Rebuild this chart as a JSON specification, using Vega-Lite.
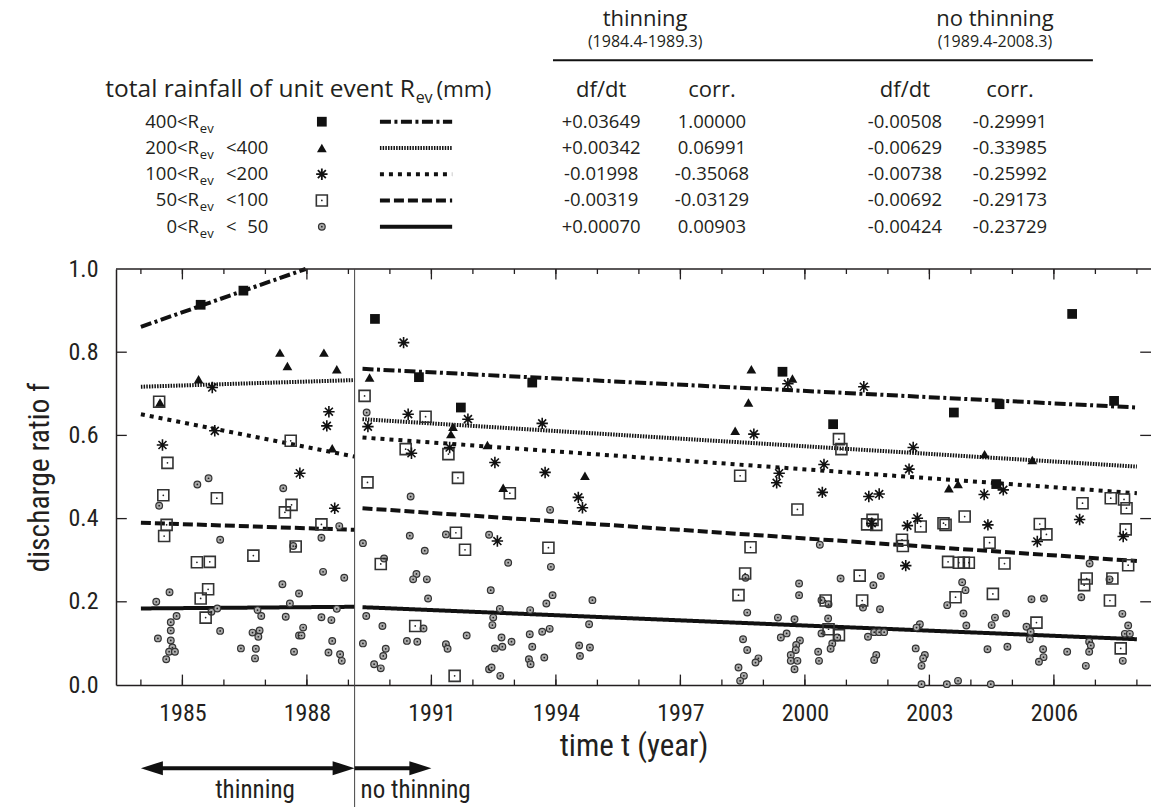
{
  "$schema": "https://vega.github.io/schema/vega-lite/v6.json",
  "width": 1035,
  "height": 416,
  "autosize": {"type": "none"},
  "padding": {"left": 116, "top": 269, "right": 0, "bottom": 122},
  "background": "white",
  "config": {
    "view": {"stroke": null},
    "text": {"font": "Open Sans", "color": "#231f20"},
    "axis": {"grid": false, "labelColor": "#231f20", "titleColor": "#231f20", "domainColor": "#231f20", "domainWidth": 1.5, "labelFont": "Roboto Condensed, DejaVu Sans Condensed, Roboto, sans-serif", "titleFont": "Roboto Condensed, DejaVu Sans Condensed, Roboto, sans-serif", "titleFontWeight": "normal"}
  },
  "datasets": {
    "fits": [
      {"period": "thinning", "class": "R>400", "t": 1984.0, "f": 0.861},
      {"period": "thinning", "class": "R>400", "t": 1987.97, "f": 1.0},
      {"period": "thinning", "class": "200-400", "t": 1984.0, "f": 0.717},
      {"period": "thinning", "class": "200-400", "t": 1989.15, "f": 0.733},
      {"period": "thinning", "class": "100-200", "t": 1984.0, "f": 0.651},
      {"period": "thinning", "class": "100-200", "t": 1989.15, "f": 0.549},
      {"period": "thinning", "class": "50-100", "t": 1984.0, "f": 0.39},
      {"period": "thinning", "class": "50-100", "t": 1989.15, "f": 0.373},
      {"period": "thinning", "class": "0-50", "t": 1984.0, "f": 0.184},
      {"period": "thinning", "class": "0-50", "t": 1989.15, "f": 0.188},
      {"period": "no thinning", "class": "R>400", "t": 1989.34, "f": 0.76},
      {"period": "no thinning", "class": "R>400", "t": 2008.0, "f": 0.667},
      {"period": "no thinning", "class": "200-400", "t": 1989.34, "f": 0.639},
      {"period": "no thinning", "class": "200-400", "t": 2008.0, "f": 0.525},
      {"period": "no thinning", "class": "100-200", "t": 1989.34, "f": 0.595},
      {"period": "no thinning", "class": "100-200", "t": 2008.0, "f": 0.461},
      {"period": "no thinning", "class": "50-100", "t": 1989.34, "f": 0.425},
      {"period": "no thinning", "class": "50-100", "t": 2008.0, "f": 0.298},
      {"period": "no thinning", "class": "0-50", "t": 1989.34, "f": 0.187},
      {"period": "no thinning", "class": "0-50", "t": 2008.0, "f": 0.11}
    ],
    "points": [
      {"t":1985.44,"f":0.914,"class":"R>400"},{"t":1986.47,"f":0.948,"class":"R>400"},{"t":1989.64,"f":0.880,"class":"R>400"},{"t":1990.70,"f":0.740,"class":"R>400"},{"t":1991.71,"f":0.667,"class":"R>400"},{"t":1993.43,"f":0.727,"class":"R>400"},{"t":1999.46,"f":0.753,"class":"R>400"},{"t":2000.68,"f":0.627,"class":"R>400"},{"t":2003.59,"f":0.655,"class":"R>400"},{"t":2004.69,"f":0.675,"class":"R>400"},{"t":2004.61,"f":0.483,"class":"R>400"},{"t":2006.44,"f":0.892,"class":"R>400"},{"t":2007.45,"f":0.683,"class":"R>400"},
      {"t":1984.46,"f":0.679,"class":"200-400"},{"t":1985.39,"f":0.735,"class":"200-400"},{"t":1987.35,"f":0.799,"class":"200-400"},{"t":1987.53,"f":0.767,"class":"200-400"},{"t":1988.41,"f":0.799,"class":"200-400"},{"t":1988.72,"f":0.759,"class":"200-400"},{"t":1988.61,"f":0.569,"class":"200-400"},{"t":1989.51,"f":0.739,"class":"200-400"},{"t":1991.52,"f":0.621,"class":"200-400"},{"t":1991.47,"f":0.603,"class":"200-400"},{"t":1992.35,"f":0.577,"class":"200-400"},{"t":1992.73,"f":0.474,"class":"200-400"},{"t":1994.70,"f":0.503,"class":"200-400"},{"t":1998.71,"f":0.759,"class":"200-400"},{"t":1999.70,"f":0.737,"class":"200-400"},{"t":1998.64,"f":0.679,"class":"200-400"},{"t":1998.32,"f":0.611,"class":"200-400"},{"t":2003.47,"f":0.473,"class":"200-400"},{"t":2003.69,"f":0.483,"class":"200-400"},{"t":2004.33,"f":0.555,"class":"200-400"},{"t":2005.48,"f":0.541,"class":"200-400"},
      {"t":1984.52,"f":0.577,"class":"100-200"},{"t":1985.72,"f":0.715,"class":"100-200"},{"t":1985.78,"f":0.611,"class":"100-200"},{"t":1987.83,"f":0.509,"class":"100-200"},{"t":1988.53,"f":0.657,"class":"100-200"},{"t":1988.48,"f":0.623,"class":"100-200"},{"t":1988.67,"f":0.425,"class":"100-200"},{"t":1989.47,"f":0.621,"class":"100-200"},{"t":1990.33,"f":0.823,"class":"100-200"},{"t":1990.44,"f":0.651,"class":"100-200"},{"t":1990.52,"f":0.557,"class":"100-200"},{"t":1991.44,"f":0.571,"class":"100-200"},{"t":1991.88,"f":0.639,"class":"100-200"},{"t":1992.53,"f":0.535,"class":"100-200"},{"t":1992.59,"f":0.346,"class":"100-200"},{"t":1993.67,"f":0.629,"class":"100-200"},{"t":1993.74,"f":0.511,"class":"100-200"},{"t":1994.54,"f":0.451,"class":"100-200"},{"t":1994.64,"f":0.426,"class":"100-200"},{"t":1998.77,"f":0.603,"class":"100-200"},{"t":1999.59,"f":0.724,"class":"100-200"},{"t":1999.38,"f":0.509,"class":"100-200"},{"t":1999.32,"f":0.486,"class":"100-200"},{"t":2000.46,"f":0.530,"class":"100-200"},{"t":2000.42,"f":0.463,"class":"100-200"},{"t":2001.42,"f":0.717,"class":"100-200"},{"t":2001.54,"f":0.453,"class":"100-200"},{"t":2001.79,"f":0.459,"class":"100-200"},{"t":2001.61,"f":0.389,"class":"100-200"},{"t":2002.61,"f":0.571,"class":"100-200"},{"t":2002.51,"f":0.519,"class":"100-200"},{"t":2002.47,"f":0.383,"class":"100-200"},{"t":2002.71,"f":0.401,"class":"100-200"},{"t":2002.43,"f":0.287,"class":"100-200"},{"t":2004.32,"f":0.458,"class":"100-200"},{"t":2004.78,"f":0.469,"class":"100-200"},{"t":2004.41,"f":0.385,"class":"100-200"},{"t":2005.60,"f":0.345,"class":"100-200"},{"t":2006.62,"f":0.398,"class":"100-200"},{"t":2007.67,"f":0.357,"class":"100-200"},
      {"t":1984.44,"f":0.681,"class":"50-100"},{"t":1984.64,"f":0.534,"class":"50-100"},{"t":1984.54,"f":0.456,"class":"50-100"},{"t":1984.62,"f":0.385,"class":"50-100"},{"t":1984.56,"f":0.358,"class":"50-100"},{"t":1985.83,"f":0.449,"class":"50-100"},{"t":1985.35,"f":0.295,"class":"50-100"},{"t":1985.66,"f":0.296,"class":"50-100"},{"t":1985.62,"f":0.230,"class":"50-100"},{"t":1985.44,"f":0.208,"class":"50-100"},{"t":1985.56,"f":0.162,"class":"50-100"},{"t":1986.71,"f":0.311,"class":"50-100"},{"t":1987.61,"f":0.587,"class":"50-100"},{"t":1987.63,"f":0.433,"class":"50-100"},{"t":1987.47,"f":0.415,"class":"50-100"},{"t":1987.73,"f":0.333,"class":"50-100"},{"t":1988.35,"f":0.386,"class":"50-100"},{"t":1989.39,"f":0.695,"class":"50-100"},{"t":1989.46,"f":0.487,"class":"50-100"},{"t":1989.78,"f":0.291,"class":"50-100"},{"t":1990.38,"f":0.567,"class":"50-100"},{"t":1990.86,"f":0.645,"class":"50-100"},{"t":1990.61,"f":0.142,"class":"50-100"},{"t":1991.41,"f":0.555,"class":"50-100"},{"t":1991.64,"f":0.498,"class":"50-100"},{"t":1991.59,"f":0.366,"class":"50-100"},{"t":1991.81,"f":0.325,"class":"50-100"},{"t":1991.56,"f":0.022,"class":"50-100"},{"t":1992.89,"f":0.461,"class":"50-100"},{"t":1993.82,"f":0.330,"class":"50-100"},{"t":1998.44,"f":0.503,"class":"50-100"},{"t":1998.69,"f":0.331,"class":"50-100"},{"t":1998.56,"f":0.268,"class":"50-100"},{"t":1998.40,"f":0.216,"class":"50-100"},{"t":1999.82,"f":0.422,"class":"50-100"},{"t":2000.82,"f":0.591,"class":"50-100"},{"t":2000.88,"f":0.567,"class":"50-100"},{"t":2000.50,"f":0.203,"class":"50-100"},{"t":2000.57,"f":0.134,"class":"50-100"},{"t":2000.82,"f":0.120,"class":"50-100"},{"t":2001.32,"f":0.263,"class":"50-100"},{"t":2001.38,"f":0.203,"class":"50-100"},{"t":2001.50,"f":0.386,"class":"50-100"},{"t":2001.63,"f":0.397,"class":"50-100"},{"t":2001.72,"f":0.385,"class":"50-100"},{"t":2002.34,"f":0.349,"class":"50-100"},{"t":2002.36,"f":0.334,"class":"50-100"},{"t":2002.79,"f":0.381,"class":"50-100"},{"t":2003.34,"f":0.389,"class":"50-100"},{"t":2003.39,"f":0.385,"class":"50-100"},{"t":2003.85,"f":0.405,"class":"50-100"},{"t":2003.45,"f":0.296,"class":"50-100"},{"t":2003.71,"f":0.294,"class":"50-100"},{"t":2003.83,"f":0.294,"class":"50-100"},{"t":2003.95,"f":0.294,"class":"50-100"},{"t":2003.63,"f":0.211,"class":"50-100"},{"t":2004.45,"f":0.342,"class":"50-100"},{"t":2004.53,"f":0.219,"class":"50-100"},{"t":2004.81,"f":0.292,"class":"50-100"},{"t":2005.66,"f":0.387,"class":"50-100"},{"t":2005.82,"f":0.362,"class":"50-100"},{"t":2005.58,"f":0.150,"class":"50-100"},{"t":2006.69,"f":0.437,"class":"50-100"},{"t":2006.79,"f":0.256,"class":"50-100"},{"t":2006.73,"f":0.240,"class":"50-100"},{"t":2007.37,"f":0.449,"class":"50-100"},{"t":2007.69,"f":0.446,"class":"50-100"},{"t":2007.75,"f":0.425,"class":"50-100"},{"t":2007.73,"f":0.374,"class":"50-100"},{"t":2007.79,"f":0.288,"class":"50-100"},{"t":2007.41,"f":0.256,"class":"50-100"},{"t":2007.35,"f":0.203,"class":"50-100"},{"t":2007.61,"f":0.088,"class":"50-100"},
      {"t":1985.36,"f":0.482,"class":"0-50"},{"t":1985.63,"f":0.497,"class":"0-50"},{"t":1987.43,"f":0.473,"class":"0-50"},{"t":1984.44,"f":0.431,"class":"0-50"},{"t":1985.91,"f":0.349,"class":"0-50"},{"t":1988.78,"f":0.382,"class":"0-50"},{"t":1988.35,"f":0.354,"class":"0-50"},{"t":1987.67,"f":0.334,"class":"0-50"},{"t":1988.39,"f":0.272,"class":"0-50"},{"t":1988.90,"f":0.258,"class":"0-50"},{"t":1987.41,"f":0.242,"class":"0-50"},{"t":1987.81,"f":0.220,"class":"0-50"},{"t":1984.69,"f":0.223,"class":"0-50"},{"t":1984.37,"f":0.200,"class":"0-50"},{"t":1987.59,"f":0.196,"class":"0-50"},{"t":1984.86,"f":0.166,"class":"0-50"},{"t":1984.72,"f":0.151,"class":"0-50"},{"t":1984.72,"f":0.131,"class":"0-50"},{"t":1984.41,"f":0.112,"class":"0-50"},{"t":1984.72,"f":0.107,"class":"0-50"},{"t":1984.76,"f":0.090,"class":"0-50"},{"t":1984.68,"f":0.080,"class":"0-50"},{"t":1984.82,"f":0.080,"class":"0-50"},{"t":1984.61,"f":0.062,"class":"0-50"},{"t":1985.70,"f":0.176,"class":"0-50"},{"t":1985.84,"f":0.184,"class":"0-50"},{"t":1985.91,"f":0.130,"class":"0-50"},{"t":1986.81,"f":0.180,"class":"0-50"},{"t":1986.90,"f":0.166,"class":"0-50"},{"t":1986.69,"f":0.126,"class":"0-50"},{"t":1986.86,"f":0.131,"class":"0-50"},{"t":1986.83,"f":0.116,"class":"0-50"},{"t":1986.41,"f":0.088,"class":"0-50"},{"t":1986.77,"f":0.087,"class":"0-50"},{"t":1986.75,"f":0.064,"class":"0-50"},{"t":1987.49,"f":0.164,"class":"0-50"},{"t":1987.91,"f":0.138,"class":"0-50"},{"t":1987.81,"f":0.119,"class":"0-50"},{"t":1987.87,"f":0.119,"class":"0-50"},{"t":1987.69,"f":0.080,"class":"0-50"},{"t":1988.35,"f":0.163,"class":"0-50"},{"t":1988.59,"f":0.156,"class":"0-50"},{"t":1988.72,"f":0.183,"class":"0-50"},{"t":1988.61,"f":0.106,"class":"0-50"},{"t":1988.52,"f":0.078,"class":"0-50"},{"t":1988.80,"f":0.074,"class":"0-50"},{"t":1988.84,"f":0.058,"class":"0-50"},
      {"t":1989.44,"f":0.655,"class":"0-50"},{"t":1990.50,"f":0.453,"class":"0-50"},{"t":1993.86,"f":0.421,"class":"0-50"},{"t":1989.35,"f":0.341,"class":"0-50"},{"t":1990.48,"f":0.359,"class":"0-50"},{"t":1991.35,"f":0.362,"class":"0-50"},{"t":1992.39,"f":0.361,"class":"0-50"},{"t":1989.86,"f":0.304,"class":"0-50"},{"t":1990.84,"f":0.323,"class":"0-50"},{"t":1992.85,"f":0.294,"class":"0-50"},{"t":1993.88,"f":0.284,"class":"0-50"},{"t":1990.64,"f":0.267,"class":"0-50"},{"t":1990.56,"f":0.254,"class":"0-50"},{"t":1990.89,"f":0.254,"class":"0-50"},{"t":1992.43,"f":0.228,"class":"0-50"},{"t":1990.92,"f":0.208,"class":"0-50"},{"t":1993.92,"f":0.216,"class":"0-50"},{"t":1993.77,"f":0.196,"class":"0-50"},{"t":1994.88,"f":0.204,"class":"0-50"},{"t":1992.65,"f":0.183,"class":"0-50"},{"t":1993.38,"f":0.180,"class":"0-50"},{"t":1989.43,"f":0.166,"class":"0-50"},{"t":1992.49,"f":0.162,"class":"0-50"},{"t":1992.47,"f":0.144,"class":"0-50"},{"t":1989.82,"f":0.142,"class":"0-50"},{"t":1990.81,"f":0.136,"class":"0-50"},{"t":1994.80,"f":0.146,"class":"0-50"},{"t":1993.85,"f":0.135,"class":"0-50"},{"t":1993.67,"f":0.128,"class":"0-50"},{"t":1991.85,"f":0.119,"class":"0-50"},{"t":1993.37,"f":0.122,"class":"0-50"},{"t":1992.69,"f":0.114,"class":"0-50"},{"t":1992.93,"f":0.104,"class":"0-50"},{"t":1989.35,"f":0.100,"class":"0-50"},{"t":1990.41,"f":0.106,"class":"0-50"},{"t":1990.66,"f":0.104,"class":"0-50"},{"t":1991.35,"f":0.098,"class":"0-50"},{"t":1991.39,"f":0.087,"class":"0-50"},{"t":1989.90,"f":0.087,"class":"0-50"},{"t":1989.84,"f":0.070,"class":"0-50"},{"t":1992.53,"f":0.088,"class":"0-50"},{"t":1992.71,"f":0.092,"class":"0-50"},{"t":1993.43,"f":0.092,"class":"0-50"},{"t":1994.56,"f":0.095,"class":"0-50"},{"t":1994.82,"f":0.090,"class":"0-50"},{"t":1994.58,"f":0.070,"class":"0-50"},{"t":1993.72,"f":0.066,"class":"0-50"},{"t":1993.35,"f":0.062,"class":"0-50"},{"t":1993.39,"f":0.050,"class":"0-50"},{"t":1989.62,"f":0.050,"class":"0-50"},{"t":1989.78,"f":0.040,"class":"0-50"},{"t":1992.39,"f":0.038,"class":"0-50"},{"t":1992.45,"f":0.042,"class":"0-50"},{"t":1992.66,"f":0.022,"class":"0-50"},
      {"t":2000.36,"f":0.337,"class":"0-50"},{"t":1999.86,"f":0.244,"class":"0-50"},{"t":1999.86,"f":0.216,"class":"0-50"},{"t":2000.86,"f":0.256,"class":"0-50"},{"t":2001.65,"f":0.240,"class":"0-50"},{"t":2001.83,"f":0.262,"class":"0-50"},{"t":1998.57,"f":0.258,"class":"0-50"},{"t":2000.40,"f":0.204,"class":"0-50"},{"t":2000.57,"f":0.194,"class":"0-50"},{"t":2001.40,"f":0.186,"class":"0-50"},{"t":2001.81,"f":0.182,"class":"0-50"},{"t":1998.61,"f":0.174,"class":"0-50"},{"t":1999.35,"f":0.162,"class":"0-50"},{"t":1999.75,"f":0.158,"class":"0-50"},{"t":2000.56,"f":0.160,"class":"0-50"},{"t":2000.40,"f":0.124,"class":"0-50"},{"t":2001.67,"f":0.127,"class":"0-50"},{"t":2001.79,"f":0.127,"class":"0-50"},{"t":2001.91,"f":0.127,"class":"0-50"},{"t":2001.52,"f":0.116,"class":"0-50"},{"t":1998.51,"f":0.110,"class":"0-50"},{"t":1999.42,"f":0.114,"class":"0-50"},{"t":1999.56,"f":0.124,"class":"0-50"},{"t":1999.88,"f":0.107,"class":"0-50"},{"t":1999.79,"f":0.096,"class":"0-50"},{"t":2000.78,"f":0.114,"class":"0-50"},{"t":2000.66,"f":0.100,"class":"0-50"},{"t":2000.62,"f":0.087,"class":"0-50"},{"t":1998.61,"f":0.084,"class":"0-50"},{"t":1999.78,"f":0.084,"class":"0-50"},{"t":2000.32,"f":0.080,"class":"0-50"},{"t":1999.66,"f":0.072,"class":"0-50"},{"t":1998.88,"f":0.064,"class":"0-50"},{"t":1998.81,"f":0.054,"class":"0-50"},{"t":1999.66,"f":0.058,"class":"0-50"},{"t":1999.82,"f":0.058,"class":"0-50"},{"t":2000.34,"f":0.058,"class":"0-50"},{"t":2001.72,"f":0.072,"class":"0-50"},{"t":2001.67,"f":0.060,"class":"0-50"},{"t":1999.75,"f":0.038,"class":"0-50"},{"t":1998.40,"f":0.042,"class":"0-50"},{"t":1998.53,"f":0.022,"class":"0-50"},{"t":1998.44,"f":0.010,"class":"0-50"},
      {"t":2003.79,"f":0.247,"class":"0-50"},{"t":2003.87,"f":0.228,"class":"0-50"},{"t":2003.43,"f":0.192,"class":"0-50"},{"t":2003.82,"f":0.172,"class":"0-50"},{"t":2003.89,"f":0.143,"class":"0-50"},{"t":2004.58,"f":0.162,"class":"0-50"},{"t":2004.50,"f":0.144,"class":"0-50"},{"t":2004.85,"f":0.172,"class":"0-50"},{"t":2002.77,"f":0.146,"class":"0-50"},{"t":2002.69,"f":0.138,"class":"0-50"},{"t":2002.67,"f":0.088,"class":"0-50"},{"t":2002.89,"f":0.072,"class":"0-50"},{"t":2002.85,"f":0.064,"class":"0-50"},{"t":2002.81,"f":0.046,"class":"0-50"},{"t":2002.81,"f":0.002,"class":"0-50"},{"t":2003.42,"f":0.002,"class":"0-50"},{"t":2003.69,"f":0.010,"class":"0-50"},{"t":2004.48,"f":0.002,"class":"0-50"},{"t":2004.40,"f":0.086,"class":"0-50"},{"t":2004.88,"f":0.092,"class":"0-50"},{"t":2005.46,"f":0.206,"class":"0-50"},{"t":2005.76,"f":0.208,"class":"0-50"},{"t":2005.34,"f":0.140,"class":"0-50"},{"t":2005.44,"f":0.128,"class":"0-50"},{"t":2005.42,"f":0.110,"class":"0-50"},{"t":2005.74,"f":0.086,"class":"0-50"},{"t":2005.75,"f":0.067,"class":"0-50"},{"t":2005.64,"f":0.056,"class":"0-50"},{"t":2006.32,"f":0.080,"class":"0-50"},{"t":2006.66,"f":0.211,"class":"0-50"},{"t":2006.86,"f":0.292,"class":"0-50"},{"t":2007.34,"f":0.254,"class":"0-50"},{"t":2006.85,"f":0.104,"class":"0-50"},{"t":2006.89,"f":0.095,"class":"0-50"},{"t":2006.85,"f":0.080,"class":"0-50"},{"t":2006.77,"f":0.046,"class":"0-50"},{"t":2007.65,"f":0.171,"class":"0-50"},{"t":2007.79,"f":0.143,"class":"0-50"},{"t":2007.71,"f":0.123,"class":"0-50"},{"t":2007.83,"f":0.123,"class":"0-50"},{"t":2007.66,"f":0.058,"class":"0-50"}
    ],
    "table": [
      {"class": "R>400", "labA": "400<R", "labC": "", "thin_dfdt": "+0.03649", "thin_corr": "1.00000", "no_dfdt": "-0.00508", "no_corr": "-0.29991"},
      {"class": "200-400", "labA": "200<R", "labC": "<400", "thin_dfdt": "+0.00342", "thin_corr": "0.06991", "no_dfdt": "-0.00629", "no_corr": "-0.33985"},
      {"class": "100-200", "labA": "100<R", "labC": "<200", "thin_dfdt": "-0.01998", "thin_corr": "-0.35068", "no_dfdt": "-0.00738", "no_corr": "-0.25992"},
      {"class": "50-100", "labA": "50<R", "labC": "<100", "thin_dfdt": "-0.00319", "thin_corr": "-0.03129", "no_dfdt": "-0.00692", "no_corr": "-0.29173"},
      {"class": "0-50", "labA": "0<R", "labC": "<\u200750", "thin_dfdt": "+0.00070", "thin_corr": "0.00903", "no_dfdt": "-0.00424", "no_corr": "-0.23729"}
    ],
    "years": [
      {"t":1984},{"t":1985},{"t":1986},{"t":1987},{"t":1988},{"t":1989},{"t":1990},{"t":1991},{"t":1992},{"t":1993},{"t":1994},{"t":1995},{"t":1996},{"t":1997},{"t":1998},{"t":1999},{"t":2000},{"t":2001},{"t":2002},{"t":2003},{"t":2004},{"t":2005},{"t":2006},{"t":2007},{"t":2008}
    ],
    "fvals": [{"f":0.2},{"f":0.4},{"f":0.6},{"f":0.8}],
    "arrows": [
      {"phase": "thinning", "start": 1984.0, "end": 1989.15},
      {"phase": "no thinning", "start": 1989.15, "end": 1991.0}
    ]
  },
  "layer": [
    {
      "layer": [
        {
          "data": {"name": "fits"},
          "mark": {"type": "line", "color": "#111", "strokeWidth": 4},
          "encoding": {
            "x": {"field": "t", "type": "quantitative", "title": "time t (year)", "scale": {"domain": [1983.4, 2008.34], "nice": false, "zero": false},
              "axis": {"values": [1985,1988,1991,1994,1997,2000,2003,2006], "format": "d", "ticks": false, "labelFontSize": 24, "labelPadding": 16, "labelFlush": false, "labelOverlap": false, "titleFontSize": 31, "titlePadding": 6}},
            "y": {"field": "f", "type": "quantitative", "title": "discharge ratio f", "scale": {"domain": [0, 1], "nice": false, "zero": false},
              "axis": {"values": [0,0.2,0.4,0.6,0.8,1], "format": ".1f", "ticks": false, "labelFontSize": 24, "labelPadding": 18, "labelFlush": false, "titleFontSize": 29.5, "titlePadding": 13}},
            "detail": {"field": "period"},
            "strokeDash": {"field": "class", "type": "nominal", "legend": null,
              "scale": {"domain": ["R>400","200-400","100-200","50-100","0-50"], "range": [[11,3.5,3,3.5],[1.5,1.2],[4,5],[10,4],[1,0]]}}
          }
        },
        {
          "data": {"name": "points"},
          "transform": [{"filter": "datum.class == '0-50'"}],
          "mark": {"type": "point", "shape": "circle", "filled": true, "fill": "#aaa", "stroke": "#333", "strokeWidth": 1.2, "size": 45, "opacity": 1},
          "encoding": {"x": {"field": "t", "type": "quantitative", "title": "time t (year)"}, "y": {"field": "f", "type": "quantitative", "title": "discharge ratio f"}}
        },
        {
          "data": {"name": "points"},
          "transform": [{"filter": "datum.class == '50-100'"}],
          "mark": {"type": "point", "shape": "square", "filled": false, "stroke": "#333", "strokeWidth": 1.6, "size": 121, "opacity": 1},
          "encoding": {"x": {"field": "t", "type": "quantitative", "title": "time t (year)"}, "y": {"field": "f", "type": "quantitative", "title": "discharge ratio f"}}
        },
        {
          "data": {"name": "points"},
          "transform": [{"filter": "datum.class == '50-100' || datum.class == '0-50'"}],
          "mark": {"type": "point", "shape": "circle", "filled": true, "color": "#222", "size": 3, "opacity": 1},
          "encoding": {"x": {"field": "t", "type": "quantitative", "title": "time t (year)"}, "y": {"field": "f", "type": "quantitative", "title": "discharge ratio f"}}
        },
        {
          "data": {"name": "points"},
          "transform": [{"filter": "datum.class == '100-200'"}],
          "mark": {"type": "point", "shape": "M-1,0L1,0M0,-1L0,1M-0.7,-0.7L0.7,0.7M-0.7,0.7L0.7,-0.7", "filled": false, "stroke": "#111", "strokeWidth": 1.6, "size": 130, "opacity": 1},
          "encoding": {"x": {"field": "t", "type": "quantitative", "title": "time t (year)"}, "y": {"field": "f", "type": "quantitative", "title": "discharge ratio f"}}
        },
        {
          "data": {"name": "points"},
          "transform": [{"filter": "datum.class == '200-400'"}],
          "mark": {"type": "point", "shape": "triangle-up", "filled": true, "color": "#111", "size": 95, "opacity": 1},
          "encoding": {"x": {"field": "t", "type": "quantitative", "title": "time t (year)"}, "y": {"field": "f", "type": "quantitative", "title": "discharge ratio f"}}
        },
        {
          "data": {"name": "points"},
          "transform": [{"filter": "datum.class == 'R>400'"}],
          "mark": {"type": "point", "shape": "square", "filled": true, "color": "#111", "size": 95, "opacity": 1},
          "encoding": {"x": {"field": "t", "type": "quantitative", "title": "time t (year)"}, "y": {"field": "f", "type": "quantitative", "title": "discharge ratio f"}}
        },
        {
          "data": {"name": "years"},
          "mark": {"type": "rule", "color": "#231f20", "strokeWidth": 1.3},
          "encoding": {"x": {"field": "t", "type": "quantitative", "title": "time t (year)"}, "y": {"datum": 0, "type": "quantitative"}, "y2": {"datum": 0.013}}
        },
        {
          "data": {"name": "years"},
          "mark": {"type": "rule", "color": "#231f20", "strokeWidth": 1.3},
          "encoding": {"x": {"field": "t", "type": "quantitative", "title": "time t (year)"}, "y": {"datum": 1, "type": "quantitative"}, "y2": {"datum": 0.988}}
        },
        {
          "data": {"name": "years"},
          "transform": [{"filter": "datum.t % 3 == 2"}],
          "mark": {"type": "rule", "color": "#231f20", "strokeWidth": 1.3},
          "encoding": {"x": {"field": "t", "type": "quantitative", "title": "time t (year)"}, "y": {"datum": 0, "type": "quantitative"}, "y2": {"datum": 0.025}}
        },
        {
          "data": {"name": "years"},
          "transform": [{"filter": "datum.t % 3 == 2"}],
          "mark": {"type": "rule", "color": "#231f20", "strokeWidth": 1.3},
          "encoding": {"x": {"field": "t", "type": "quantitative", "title": "time t (year)"}, "y": {"datum": 1, "type": "quantitative"}, "y2": {"datum": 0.975}}
        },
        {
          "data": {"name": "fvals"},
          "mark": {"type": "rule", "color": "#231f20", "strokeWidth": 1.3},
          "encoding": {"y": {"field": "f", "type": "quantitative", "title": "discharge ratio f"}, "x": {"datum": 1983.4, "type": "quantitative"}, "x2": {"datum": 1983.66}}
        },
        {
          "data": {"name": "fvals"},
          "mark": {"type": "rule", "color": "#231f20", "strokeWidth": 1.3},
          "encoding": {"y": {"field": "f", "type": "quantitative", "title": "discharge ratio f"}, "x": {"datum": 2008.34, "type": "quantitative"}, "x2": {"datum": 2008.08}}
        },
        {
          "data": {"values": [{"edge": "top"}]},
          "mark": {"type": "rule", "color": "#231f20", "strokeWidth": 1.5},
          "encoding": {"y": {"datum": 1, "type": "quantitative"}}
        },
        {
          "data": {"name": "arrows"},
          "transform": [{"filter": "datum.phase == 'thinning'"}],
          "mark": {"type": "rule", "color": "#444", "strokeWidth": 1},
          "encoding": {"x": {"field": "end", "type": "quantitative", "title": "time t (year)"}, "y": {"datum": 1, "type": "quantitative"}, "y2": {"datum": -0.3}}
        },
        {
          "data": {"name": "arrows"},
          "transform": [{"filter": "datum.phase == 'thinning'"}],
          "mark": {"type": "rule", "color": "#111", "strokeWidth": 4, "xOffset": 12, "x2Offset": -12},
          "encoding": {"x": {"field": "start", "type": "quantitative", "title": "time t (year)"}, "x2": {"field": "end"}, "y": {"datum": -0.2, "type": "quantitative"}}
        },
        {
          "data": {"name": "arrows"},
          "transform": [{"filter": "datum.phase == 'no thinning'"}],
          "mark": {"type": "rule", "color": "#111", "strokeWidth": 4, "x2Offset": -12},
          "encoding": {"x": {"field": "start", "type": "quantitative", "title": "time t (year)"}, "x2": {"field": "end"}, "y": {"datum": -0.2, "type": "quantitative"}}
        },
        {
          "data": {"name": "arrows"},
          "mark": {"type": "point", "shape": "M0,0L-2,-0.64L-2,0.64Z", "filled": true, "color": "#111", "size": 484, "opacity": 1},
          "encoding": {"x": {"field": "end", "type": "quantitative", "title": "time t (year)"}, "y": {"datum": -0.2, "type": "quantitative"}}
        },
        {
          "data": {"name": "arrows"},
          "transform": [{"filter": "datum.phase == 'thinning'"}],
          "mark": {"type": "point", "shape": "M0,0L2,-0.64L2,0.64Z", "filled": true, "color": "#111", "size": 484, "opacity": 1},
          "encoding": {"x": {"field": "start", "type": "quantitative", "title": "time t (year)"}, "y": {"datum": -0.2, "type": "quantitative"}}
        },
        {
          "data": {"name": "arrows"},
          "transform": [{"filter": "datum.phase == 'thinning'"}],
          "mark": {"type": "text", "font": "Roboto Condensed, DejaVu Sans Condensed, Roboto, sans-serif", "fontSize": 25, "align": "center", "baseline": "middle"},
          "encoding": {"x": {"datum": 1986.75, "type": "quantitative"}, "y": {"datum": -0.252, "type": "quantitative"}, "text": {"field": "phase"}}
        },
        {
          "data": {"name": "arrows"},
          "transform": [{"filter": "datum.phase == 'no thinning'"}],
          "mark": {"type": "text", "font": "Roboto Condensed, DejaVu Sans Condensed, Roboto, sans-serif", "fontSize": 25, "align": "left", "baseline": "middle", "dx": 6},
          "encoding": {"x": {"field": "start", "type": "quantitative", "title": "time t (year)"}, "y": {"datum": -0.252, "type": "quantitative"}, "text": {"field": "phase"}}
        },
        {
          "data": {"values": [{"label": "thinning"}]},
          "mark": {"type": "text", "fontSize": 22, "align": "center", "baseline": "middle"},
          "encoding": {"x": {"datum": 1996.15, "type": "quantitative"}, "y": {"datum": 1.601, "type": "quantitative"}, "text": {"field": "label"}}
        },
        {
          "data": {"values": [{"label": "(1984.4-1989.3)"}]},
          "mark": {"type": "text", "fontSize": 16, "align": "center", "baseline": "middle"},
          "encoding": {"x": {"datum": 1996.15, "type": "quantitative"}, "y": {"datum": 1.546, "type": "quantitative"}, "text": {"field": "label"}}
        },
        {
          "data": {"values": [{"label": "no thinning"}]},
          "mark": {"type": "text", "fontSize": 22, "align": "center", "baseline": "middle"},
          "encoding": {"x": {"datum": 2004.58, "type": "quantitative"}, "y": {"datum": 1.601, "type": "quantitative"}, "text": {"field": "label"}}
        },
        {
          "data": {"values": [{"label": "(1989.4-2008.3)"}]},
          "mark": {"type": "text", "fontSize": 16, "align": "center", "baseline": "middle"},
          "encoding": {"x": {"datum": 2004.58, "type": "quantitative"}, "y": {"datum": 1.546, "type": "quantitative"}, "text": {"field": "label"}}
        },
        {
          "data": {"values": [{"label": "underline"}]},
          "mark": {"type": "rule", "color": "#111", "strokeWidth": 2},
          "encoding": {"x": {"datum": 1993.93, "type": "quantitative"}, "x2": {"datum": 2006.94}, "y": {"datum": 1.502, "type": "quantitative"}}
        },
        {
          "data": {"values": [{"label": "df/dt", "period": "thinning"}]},
          "mark": {"type": "text", "fontSize": 22, "align": "center", "baseline": "middle"},
          "encoding": {"x": {"datum": 1995.09, "type": "quantitative"}, "y": {"datum": 1.43, "type": "quantitative"}, "text": {"field": "label"}}
        },
        {
          "data": {"values": [{"label": "corr.", "period": "thinning"}]},
          "mark": {"type": "text", "fontSize": 22, "align": "center", "baseline": "middle"},
          "encoding": {"x": {"datum": 1997.76, "type": "quantitative"}, "y": {"datum": 1.43, "type": "quantitative"}, "text": {"field": "label"}}
        },
        {
          "data": {"values": [{"label": "df/dt", "period": "no thinning"}]},
          "mark": {"type": "text", "fontSize": 22, "align": "center", "baseline": "middle"},
          "encoding": {"x": {"datum": 2002.41, "type": "quantitative"}, "y": {"datum": 1.43, "type": "quantitative"}, "text": {"field": "label"}}
        },
        {
          "data": {"values": [{"label": "corr.", "period": "no thinning"}]},
          "mark": {"type": "text", "fontSize": 22, "align": "center", "baseline": "middle"},
          "encoding": {"x": {"datum": 2004.94, "type": "quantitative"}, "y": {"datum": 1.43, "type": "quantitative"}, "text": {"field": "label"}}
        },
        {
          "data": {"values": [{"label": "total rainfall of unit event R"}]},
          "mark": {"type": "text", "fontSize": 24.5, "align": "right", "baseline": "middle"},
          "encoding": {"x": {"datum": 1990.6, "type": "quantitative"}, "y": {"datum": 1.43, "type": "quantitative"}, "text": {"field": "label"}}
        },
        {
          "data": {"values": [{"label": "ev"}]},
          "mark": {"type": "text", "fontSize": 16, "align": "left", "baseline": "middle", "dy": 8},
          "encoding": {"x": {"datum": 1990.62, "type": "quantitative"}, "y": {"datum": 1.43, "type": "quantitative"}, "text": {"field": "label"}}
        },
        {
          "data": {"values": [{"label": "(mm)"}]},
          "mark": {"type": "text", "fontSize": 22.5, "align": "left", "baseline": "middle"},
          "encoding": {"x": {"datum": 1991.12, "type": "quantitative"}, "y": {"datum": 1.43, "type": "quantitative"}, "text": {"field": "label"}}
        }
      ]
    },
    {
      "data": {"name": "table"},
      "layer": [
        {
          "mark": {"type": "text", "fontSize": 18.5, "align": "right", "baseline": "middle"},
          "encoding": {
            "x": {"datum": 1985.4, "type": "quantitative"},
            "y": {"field": "class", "type": "nominal", "axis": null, "scale": {"type": "point", "domain": ["R>400","200-400","100-200","50-100","0-50"], "range": [-147.3, -42.3], "padding": 0}},
            "text": {"field": "labA"}
          }
        },
        {
          "mark": {"type": "text", "text": "ev", "fontSize": 13, "align": "left", "baseline": "middle", "dy": 7},
          "encoding": {"x": {"datum": 1985.42, "type": "quantitative"}, "y": {"field": "class", "type": "nominal", "axis": null}}
        },
        {
          "mark": {"type": "text", "fontSize": 18.5, "align": "left", "baseline": "middle"},
          "encoding": {"x": {"datum": 1986.05, "type": "quantitative"}, "y": {"field": "class", "type": "nominal", "axis": null}, "text": {"field": "labC"}}
        },
        {
          "mark": {"type": "rule", "color": "#111", "strokeWidth": 4},
          "encoding": {"x": {"datum": 1989.76, "type": "quantitative"}, "x2": {"datum": 1991.5}, "y": {"field": "class", "type": "nominal", "axis": null},
            "strokeDash": {"field": "class", "type": "nominal", "legend": null, "scale": {"domain": ["R>400","200-400","100-200","50-100","0-50"], "range": [[11,3.5,3,3.5],[1.5,1.2],[4,5],[10,4],[1,0]]}}}
        },
        {
          "transform": [{"filter": "datum.class == 'R>400'"}],
          "mark": {"type": "point", "shape": "square", "filled": true, "color": "#111", "size": 95, "opacity": 1},
          "encoding": {"x": {"datum": 1988.36, "type": "quantitative"}, "y": {"field": "class", "type": "nominal", "axis": null}}
        },
        {
          "transform": [{"filter": "datum.class == '200-400'"}],
          "mark": {"type": "point", "shape": "triangle-up", "filled": true, "color": "#111", "size": 95, "opacity": 1},
          "encoding": {"x": {"datum": 1988.36, "type": "quantitative"}, "y": {"field": "class", "type": "nominal", "axis": null}}
        },
        {
          "transform": [{"filter": "datum.class == '100-200'"}],
          "mark": {"type": "point", "shape": "M-1,0L1,0M0,-1L0,1M-0.7,-0.7L0.7,0.7M-0.7,0.7L0.7,-0.7", "filled": false, "stroke": "#111", "strokeWidth": 1.8, "size": 130, "opacity": 1},
          "encoding": {"x": {"datum": 1988.36, "type": "quantitative"}, "y": {"field": "class", "type": "nominal", "axis": null}}
        },
        {
          "transform": [{"filter": "datum.class == '50-100'"}],
          "mark": {"type": "point", "shape": "square", "filled": false, "stroke": "#333", "strokeWidth": 1.6, "size": 121, "opacity": 1},
          "encoding": {"x": {"datum": 1988.36, "type": "quantitative"}, "y": {"field": "class", "type": "nominal", "axis": null}}
        },
        {
          "transform": [{"filter": "datum.class == '0-50'"}],
          "mark": {"type": "point", "shape": "circle", "filled": true, "fill": "#aaa", "stroke": "#333", "strokeWidth": 1.2, "size": 45, "opacity": 1},
          "encoding": {"x": {"datum": 1988.36, "type": "quantitative"}, "y": {"field": "class", "type": "nominal", "axis": null}}
        },
        {
          "transform": [{"filter": "datum.class == '50-100' || datum.class == '0-50'"}],
          "mark": {"type": "point", "shape": "circle", "filled": true, "color": "#222", "size": 3, "opacity": 1},
          "encoding": {"x": {"datum": 1988.36, "type": "quantitative"}, "y": {"field": "class", "type": "nominal", "axis": null}}
        },
        {
          "mark": {"type": "text", "fontSize": 18.5, "align": "center", "baseline": "middle"},
          "encoding": {"x": {"datum": 1995.09, "type": "quantitative"}, "y": {"field": "class", "type": "nominal", "axis": null}, "text": {"field": "thin_dfdt"}}
        },
        {
          "mark": {"type": "text", "fontSize": 18.5, "align": "center", "baseline": "middle"},
          "encoding": {"x": {"datum": 1997.76, "type": "quantitative"}, "y": {"field": "class", "type": "nominal", "axis": null}, "text": {"field": "thin_corr"}}
        },
        {
          "mark": {"type": "text", "fontSize": 18.5, "align": "center", "baseline": "middle"},
          "encoding": {"x": {"datum": 2002.41, "type": "quantitative"}, "y": {"field": "class", "type": "nominal", "axis": null}, "text": {"field": "no_dfdt"}}
        },
        {
          "mark": {"type": "text", "fontSize": 18.5, "align": "center", "baseline": "middle"},
          "encoding": {"x": {"datum": 2004.94, "type": "quantitative"}, "y": {"field": "class", "type": "nominal", "axis": null}, "text": {"field": "no_corr"}}
        }
      ]
    }
  ],
  "resolve": {"scale": {"y": "independent"}}
}
